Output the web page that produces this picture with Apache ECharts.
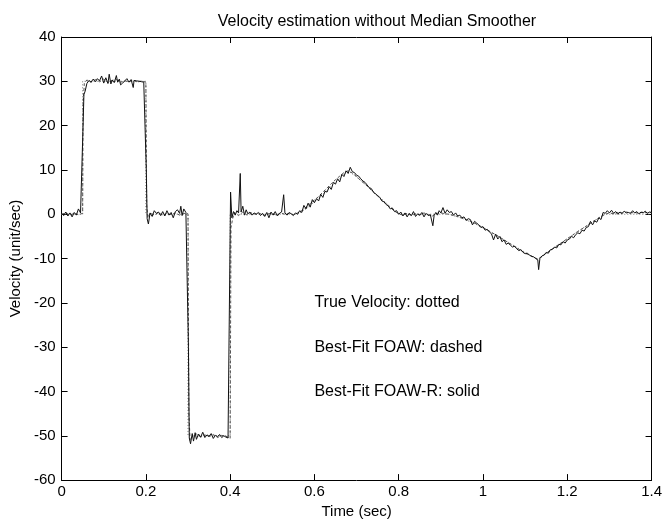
<!DOCTYPE html>
<html>
<head>
<meta charset="utf-8">
<script src="https://cdn.jsdelivr.net/npm/echarts@6/dist/echarts.min.js"></script>
<style>
  html, body { margin: 0; padding: 0; background: #fff; }
  #main { width: 665px; height: 524px; }
</style>
</head>
<body>
<div id="main"></div>
<script>
// true velocity (dotted)
const trueVel = [
  [0, 0], [0.05, 0], [0.05, 30], [0.2, 30], [0.2, 0], [0.3, 0], [0.3, -50], [0.4, -50], [0.4, 0],
  [0.56, 0], [0.58, 1.2], [0.6, 2.8], [0.62, 4.5], [0.64, 6.3], [0.66, 8.1], [0.68, 9.8], [0.7, 8.4],
  [0.72, 6.8], [0.74, 5.1], [0.76, 3.4], [0.78, 1.7], [0.8, 0], [0.92, 0], [0.95, -0.9], [0.98, -2.1],
  [1.01, -3.6], [1.04, -5.2], [1.07, -6.9], [1.1, -8.6], [1.13, -10.2], [1.16, -8.2], [1.19, -6.2],
  [1.22, -4.2], [1.25, -2.3], [1.29, 0], [1.4, 0]
];

// best-fit FOAW (dashed)
const foaw = [
  [0, 0], [0.01, 0.3], [0.02, -0.2], [0.03, 0.2], [0.04, -0.1], [0.05, 0.2], [0.051, 25], [0.054, 29.5],
  [0.06, 30.3], [0.07, 29.8], [0.08, 30.4], [0.09, 29.9], [0.1, 30.5], [0.11, 29.7], [0.12, 30.2],
  [0.13, 30.4], [0.14, 29.8], [0.15, 30.1], [0.16, 29.9], [0.17, 30.3], [0.18, 29.8], [0.19, 30.1],
  [0.2, 29.8], [0.202, 2], [0.205, -0.8], [0.21, 0.3], [0.22, -0.2], [0.23, 0.4], [0.24, -0.3],
  [0.25, 0.2], [0.26, -0.1], [0.27, 0.3], [0.28, -0.2], [0.29, 0.2], [0.3, 0.1], [0.302, -45],
  [0.305, -51], [0.31, -50.2], [0.32, -49.6], [0.33, -50.3], [0.34, -49.8], [0.35, -50.2], [0.36, -49.7],
  [0.37, -50.4], [0.38, -49.9], [0.39, -50.1], [0.4, -50.6], [0.402, -3], [0.406, -1], [0.41, 0.4],
  [0.42, -0.3], [0.43, 0.5], [0.44, -0.2], [0.45, 0.3], [0.46, 0], [0.47, 0.2], [0.48, -0.3], [0.49, 0.1],
  [0.5, 0.2], [0.51, -0.2], [0.52, 0.3], [0.53, 0], [0.54, 0.2], [0.55, -0.1], [0.56, 0.3], [0.57, 0.8],
  [0.58, 1.6], [0.59, 2.4], [0.6, 3.2], [0.61, 4], [0.62, 5], [0.63, 5.9], [0.64, 6.9], [0.65, 7.8],
  [0.66, 8.6], [0.67, 9.4], [0.68, 9.8], [0.69, 9.3], [0.7, 8.5], [0.71, 7.6], [0.72, 6.8], [0.73, 5.9],
  [0.74, 4.9], [0.75, 4.1], [0.76, 3.2], [0.77, 2.4], [0.78, 1.5], [0.79, 0.7], [0.8, 0.1], [0.81, -0.2],
  [0.82, 0.2], [0.83, -0.3], [0.84, 0.1], [0.85, -0.2], [0.86, 0.3], [0.87, -0.1], [0.88, -0.4],
  [0.89, 0.2], [0.9, 0.3], [0.91, 0.1], [0.92, 0], [0.93, -0.3], [0.94, -0.5], [0.95, -0.9], [0.96, -1.2],
  [0.97, -1.6], [0.98, -2.0], [0.99, -2.5], [1.0, -3.0], [1.01, -3.5], [1.02, -4.1], [1.03, -4.6],
  [1.04, -5.2], [1.05, -5.8], [1.06, -6.4], [1.07, -7.0], [1.08, -7.6], [1.09, -8.2], [1.1, -8.8],
  [1.11, -9.2], [1.12, -9.7], [1.13, -10.1], [1.14, -9.5], [1.15, -8.8], [1.16, -8.1], [1.17, -7.5],
  [1.18, -6.8], [1.19, -6.2], [1.2, -5.5], [1.21, -4.9], [1.22, -4.2], [1.23, -3.6], [1.24, -3.0],
  [1.25, -2.4], [1.26, -1.7], [1.27, -1.1], [1.28, -0.5], [1.29, 0], [1.3, 0.3], [1.31, 0.1], [1.32, 0.4],
  [1.33, 0.2], [1.34, 0.5], [1.35, 0.3], [1.36, 0.4], [1.37, 0.2], [1.38, 0.5], [1.39, 0.3], [1.4, 0.4]
];

// best-fit FOAW-R (solid)
const foawR = [
  [0, 0.2], [0.005, -0.3], [0.01, 0.5], [0.015, -0.4], [0.02, 0.3], [0.025, -0.6], [0.03, 0.4], [0.035, -0.2],
  [0.04, 1.2], [0.045, 0.3], [0.049, 0.5], [0.051, 20], [0.053, 27], [0.056, 27.8], [0.06, 29.5],
  [0.065, 30.2], [0.07, 29.8], [0.075, 30.5], [0.08, 29.9], [0.085, 30.6], [0.09, 30.1], [0.095, 31.2],
  [0.1, 29.6], [0.105, 30.8], [0.11, 29.5], [0.113, 31.6], [0.117, 29.4], [0.12, 30.3], [0.125, 29.7],
  [0.13, 31.3], [0.133, 29.8], [0.137, 30.5], [0.14, 29.2], [0.145, 29.6], [0.15, 30.1], [0.155, 30.6],
  [0.16, 29.8], [0.165, 30.4], [0.17, 28.6], [0.172, 30.2], [0.178, 30.1], [0.185, 30.0], [0.19, 29.9],
  [0.195, 29.8], [0.198, 29.5], [0.201, 10], [0.203, -1], [0.206, -2.2], [0.21, 0.3], [0.215, -0.5],
  [0.22, 0.8], [0.225, 0.2], [0.23, 0.5], [0.235, -0.3], [0.24, 0.6], [0.245, -0.4], [0.25, 0.8],
  [0.255, -0.2], [0.26, 0.4], [0.265, -0.8], [0.27, 0.6], [0.275, 1.0], [0.28, 0.2], [0.283, 1.8],
  [0.286, -0.3], [0.29, 1.2], [0.295, 0.4], [0.298, 0.3], [0.301, -30], [0.303, -50.5], [0.306, -51.8],
  [0.31, -49.5], [0.313, -51.2], [0.317, -49.3], [0.32, -50.8], [0.325, -49.6], [0.33, -50.3],
  [0.335, -49.2], [0.34, -50.4], [0.345, -49.8], [0.35, -50.1], [0.355, -49.5], [0.36, -50.6],
  [0.365, -49.9], [0.37, -50.2], [0.375, -49.7], [0.38, -50.4], [0.385, -50.0], [0.39, -50.3],
  [0.395, -50.5], [0.399, -50.4], [0.401, 5.0], [0.404, -0.8], [0.408, 0.6], [0.412, -0.2], [0.416, 0.8],
  [0.42, 0.3], [0.424, 9.2], [0.426, 0.5], [0.43, 1.8], [0.434, -0.2], [0.438, 1.0], [0.442, 0.1],
  [0.447, 0.5], [0.452, -0.2], [0.457, 0.3], [0.462, 0.0], [0.467, 0.4], [0.472, -0.3], [0.477, 0.2],
  [0.482, -0.5], [0.487, 0.4], [0.492, -0.8], [0.497, 0.5], [0.502, -0.2], [0.507, 0.6], [0.512, -0.4],
  [0.517, 0.2], [0.522, 0.5], [0.527, 4.4], [0.53, 0.3], [0.535, -0.2], [0.54, 0.4], [0.545, 0.1],
  [0.55, -0.3], [0.555, 0.3], [0.56, 0.0], [0.565, 0.8], [0.57, 0.4], [0.575, 2.0], [0.58, 1.2],
  [0.585, 2.5], [0.59, 1.6], [0.595, 3.3], [0.6, 2.6], [0.605, 3.5], [0.61, 3.0], [0.615, 4.5],
  [0.62, 3.8], [0.625, 5.2], [0.63, 5.0], [0.635, 6.2], [0.64, 5.6], [0.645, 7.2], [0.65, 6.8],
  [0.655, 8.0], [0.66, 7.3], [0.665, 9.0], [0.67, 8.5], [0.675, 9.8], [0.68, 9.2], [0.685, 10.6],
  [0.69, 9.6], [0.695, 9.4], [0.7, 8.8], [0.705, 8.6], [0.71, 8.0], [0.715, 7.5], [0.72, 7.2],
  [0.725, 6.6], [0.73, 6.0], [0.735, 5.8], [0.74, 5.0], [0.745, 4.6], [0.75, 4.2], [0.755, 3.8],
  [0.76, 3.0], [0.765, 2.8], [0.77, 2.2], [0.775, 1.9], [0.78, 1.2], [0.785, 1.4], [0.79, 0.6],
  [0.795, 0.8], [0.8, 0.0], [0.805, 0.5], [0.81, -0.4], [0.815, 0.3], [0.82, -0.6], [0.825, 0.2],
  [0.83, -0.3], [0.835, 0.6], [0.84, -0.5], [0.845, 0.1], [0.85, -0.2], [0.855, 0.4], [0.86, -0.6],
  [0.865, 0.2], [0.87, -0.3], [0.875, -0.1], [0.878, -0.5], [0.881, -2.6], [0.884, -0.3], [0.888, 0.4],
  [0.892, -0.2], [0.896, 0.8], [0.9, 0.3], [0.905, 1.5], [0.91, 0.2], [0.915, 1.0], [0.92, 0.4],
  [0.925, 0.6], [0.93, -0.2], [0.935, 0.3], [0.94, -0.4], [0.945, -0.2], [0.95, -0.8], [0.955, -0.6],
  [0.96, -1.4], [0.965, -1.0], [0.97, -1.2], [0.975, -2.4], [0.98, -1.6], [0.985, -2.0], [0.99, -2.4],
  [0.995, -3.0], [1.0, -2.8], [1.005, -3.6], [1.01, -3.4], [1.015, -4.0], [1.02, -4.4], [1.025, -5.8],
  [1.03, -4.5], [1.035, -5.6], [1.04, -5.0], [1.045, -6.2], [1.05, -5.8], [1.055, -6.8], [1.06, -6.5],
  [1.065, -7.0], [1.07, -7.4], [1.075, -7.2], [1.08, -7.8], [1.085, -8.2], [1.09, -8.0], [1.095, -8.6],
  [1.1, -8.9], [1.105, -8.8], [1.11, -9.2], [1.115, -9.5], [1.12, -9.6], [1.125, -10.0], [1.13, -10.3],
  [1.132, -12.5], [1.135, -10.0], [1.14, -9.4], [1.145, -9.2], [1.15, -8.6], [1.155, -8.8], [1.16, -8.0],
  [1.165, -7.9], [1.17, -7.4], [1.175, -7.6], [1.18, -6.8], [1.185, -6.9], [1.19, -6.2], [1.195, -6.5],
  [1.2, -5.8], [1.205, -5.6], [1.21, -5.0], [1.215, -5.3], [1.22, -4.6], [1.225, -4.2], [1.23, -4.4],
  [1.235, -3.6], [1.24, -3.8], [1.245, -3.0], [1.25, -2.8], [1.255, -1.6], [1.26, -2.4], [1.265, -1.5],
  [1.27, -1.8], [1.275, -0.8], [1.28, -1.2], [1.285, 0.4], [1.29, 0.2], [1.295, 0.8], [1.3, 0.3],
  [1.305, 0.9], [1.31, 0.2], [1.315, 0.6], [1.32, 0.0], [1.325, 0.5], [1.33, 0.2], [1.335, 0.7],
  [1.34, 0.3], [1.345, 0.4], [1.35, 0.2], [1.355, 0.8], [1.36, 0.3], [1.365, 0.6], [1.37, 0.1],
  [1.375, 0.5], [1.38, 0.3], [1.385, 0.7], [1.39, 0.2], [1.395, 0.5], [1.4, 0.4]
];

// text notes, anchored in data coordinates (MATLAB text() style)
const noteT = [0.6, 0.6, 0.6];
const noteV = [-20, -30, -40];
const noteText = ['True Velocity: dotted', 'Best-Fit FOAW: dashed', 'Best-Fit FOAW-R: solid'];

const font = 'Liberation Sans, Arial, Helvetica, sans-serif';

const chartDom = document.getElementById('main');
const myChart = echarts.init(chartDom, null, { renderer: 'canvas' });

// MATLAB-like box: every side has a black line and inward ticks
const tick = () => ({ show: true, inside: true, length: 6, lineStyle: { color: '#000', width: 1 } });
const line = () => ({ show: true, onZero: false, lineStyle: { color: '#000', width: 1 } });

const option = {
    animation: false,
    backgroundColor: '#fff',
    title: {
        text: 'Velocity estimation without Median Smoother',
        left: 372,
        textAlign: 'center',
        top: 9,
        textStyle: { fontFamily: font, fontSize: 16, fontWeight: 'normal', color: '#000' }
    },
    // 595 px wide (85 per 0.2), 450 px tall (45 per 10) so ticks land on whole pixels
    grid: { left: 59, right: 11, top: 37, bottom: 37 },
    xAxis: [
        {
            type: 'value',
            min: 0, max: 1.4, interval: 0.2,
            name: 'Time (sec)',
            nameLocation: 'middle',
            nameGap: 22,
            nameTextStyle: { fontFamily: font, fontSize: 15, color: '#000' },
            axisLine: line(),
            axisTick: tick(),
            splitLine: { show: false },
            axisLabel: {
                fontFamily: font, fontSize: 15, color: '#000', margin: 4,
                formatter: v => String(+v.toFixed(1))
            }
        },
        {
            type: 'value', position: 'top',
            min: 0, max: 1.4, interval: 0.2,
            axisLine: line(),
            axisTick: tick(),
            splitLine: { show: false },
            axisLabel: { show: false }
        }
    ],
    yAxis: [
        {
            type: 'value',
            min: -60, max: 40, interval: 10,
            name: 'Velocity (unit/sec)',
            nameLocation: 'middle',
            nameGap: 38,
            nameTextStyle: { fontFamily: font, fontSize: 15, color: '#000' },
            axisLine: line(),
            axisTick: tick(),
            splitLine: { show: false },
            axisLabel: { fontFamily: font, fontSize: 15, color: '#000', margin: 6 }
        },
        {
            type: 'value', position: 'right',
            min: -60, max: 40, interval: 10,
            axisLine: line(),
            axisTick: tick(),
            splitLine: { show: false },
            axisLabel: { show: false }
        }
    ],
    series: [
        {
            name: 'True Velocity',
            type: 'line',
            data: trueVel,
            showSymbol: false,
            lineStyle: { color: '#777', width: 1, type: [1, 2] }
        },
        {
            name: 'Best-Fit FOAW',
            type: 'line',
            data: foaw,
            showSymbol: false,
            lineStyle: { color: '#555', width: 1, type: [3, 2] }
        },
        {
            name: 'Best-Fit FOAW-R',
            type: 'line',
            data: foawR,
            showSymbol: false,
            lineStyle: { color: '#111', width: 1 }
        }
    ]
};

myChart.setOption(option);

// put the notes where the data coordinates land
const notes = noteText.map((txt, i) => {
    const p = myChart.convertToPixel({ gridIndex: 0 }, [noteT[i], noteV[i]]);
    return {
        type: 'text',
        x: p[0], y: p[1],
        style: {
            text: txt,
            fill: '#000',
            font: '16px ' + font,
            textAlign: 'left',
            textVerticalAlign: 'middle'
        }
    };
});
myChart.setOption({ graphic: notes });
</script>
</body>
</html>
